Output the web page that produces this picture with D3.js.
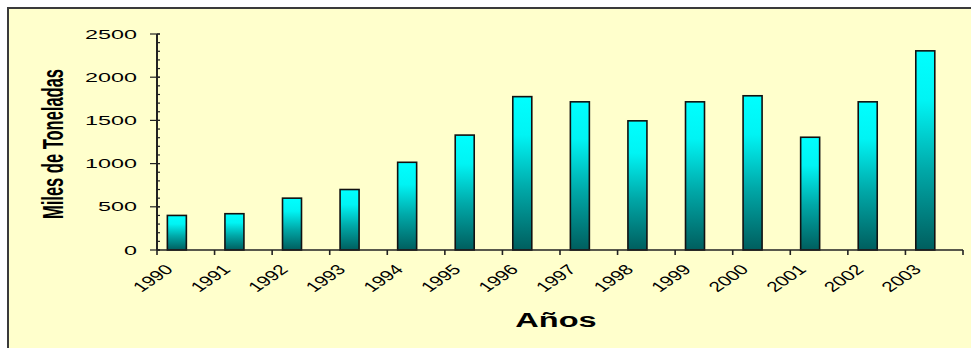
<!DOCTYPE html>
<html>
<head>
<meta charset="utf-8">
<script src="https://cdn.jsdelivr.net/npm/d3@7"></script>
<style>
  html, body { margin: 0; padding: 0; background: #ffffff; }
  svg { display: block; }
  text { font-family: "Liberation Sans", Arial, sans-serif; fill: #000; }
</style>
</head>
<body>
<svg id="chart" width="971" height="348"></svg>
<script>
// ---- data ----
const years = ["1990","1991","1992","1993","1994","1995","1996","1997","1998","1999","2000","2001","2002","2003"];
const values = [400, 420, 600, 700, 1015, 1330, 1775, 1715, 1495, 1715, 1785, 1305, 1715, 2305];
const yTicks = [0, 500, 1000, 1500, 2000, 2500];
const yMinorTicks = d3.range(0, 2501, 100);
const yTitle = "Miles de Toneladas";
const xTitle = "Años";

// ---- layout ----
const W = 971, H = 348;
const mLeft = 157, mRight = 963, mTop = 34, mBottom = 250;

const svg = d3.select("#chart");

// frame / background
svg.append("rect").attr("x", 0).attr("y", 0).attr("width", W).attr("height", H).attr("fill", "#ffffff");
svg.append("rect").attr("x", 8).attr("y", 8).attr("width", W + 20).attr("height", H + 20)
  .attr("fill", "#ffffcc").attr("stroke", "#3a3a3a").attr("stroke-width", 2);

const x = d3.scaleBand().domain(years).range([mLeft, mRight]).paddingInner(0).paddingOuter(0);
const y = d3.scaleLinear().domain([0, 2500]).range([mBottom, mTop]);

// gradient
const defs = svg.append("defs");
const grad = defs.append("linearGradient").attr("id", "barGrad")
  .attr("x1", 0).attr("y1", 0).attr("x2", 0).attr("y2", 1);
grad.append("stop").attr("offset", "0%").attr("stop-color", "#00ffff");
grad.append("stop").attr("offset", "25%").attr("stop-color", "#00f4f4");
grad.append("stop").attr("offset", "60%").attr("stop-color", "#00a8a8");
grad.append("stop").attr("offset", "100%").attr("stop-color", "#005e5e");

// bars
const bw = x.bandwidth();
svg.append("g").selectAll("rect").data(values).join("rect")
  .attr("x", (d, i) => x(years[i]) + bw * 0.18)
  .attr("width", bw * 0.33)
  .attr("y", d => y(d))
  .attr("height", d => y(0) - y(d))
  .attr("fill", "url(#barGrad)")
  .attr("stroke", "#111")
  .attr("stroke-width", 1.6);

// y axis
const yAxis = svg.append("g");
yAxis.append("line").attr("x1", mLeft).attr("x2", mLeft).attr("y1", y(2500)).attr("y2", y(0))
  .attr("stroke", "#222").attr("stroke-width", 2);
yAxis.selectAll("line.minor").data(yMinorTicks).join("line").attr("class", "minor")
  .attr("x1", mLeft).attr("x2", mLeft + 3).attr("y1", d => y(d)).attr("y2", d => y(d))
  .attr("stroke", "#222").attr("stroke-width", 1.2);
yAxis.selectAll("line.major").data(yTicks).join("line").attr("class", "major")
  .attr("x1", mLeft - 7).attr("x2", mLeft + 3).attr("y1", d => y(d)).attr("y2", d => y(d))
  .attr("stroke", "#222").attr("stroke-width", 1.2);
yAxis.selectAll("text").data(yTicks).join("text")
  .attr("text-anchor", "end")
  .attr("font-size", 12.5)
  .attr("transform", d => `translate(137,${y(d) + 4.5}) scale(1.87,1)`)
  .text(d => d);

// x axis
const xAxis = svg.append("g");
xAxis.append("line").attr("x1", mLeft).attr("x2", mRight).attr("y1", mBottom).attr("y2", mBottom)
  .attr("stroke", "#222").attr("stroke-width", 1.6);
const bounds = years.map(d => x(d)).concat([mRight]);
xAxis.selectAll("line.tick").data(bounds).join("line").attr("class", "tick")
  .attr("x1", d => d).attr("x2", d => d).attr("y1", mBottom).attr("y2", mBottom + 5)
  .attr("stroke", "#222").attr("stroke-width", 1.6);
xAxis.selectAll("text").data(years).join("text")
  .attr("text-anchor", "end")
  .attr("font-size", 14.2)
  .attr("transform", d => `translate(${x(d) + 17},${mBottom + 20.5}) scale(1.45,1) rotate(-45)`)
  .text(d => d);

// titles
svg.append("text")
  .attr("text-anchor", "middle")
  .attr("font-size", 16.5).attr("font-weight", "bold")
  .attr("transform", `translate(63,144) scale(1.8,1) rotate(-90)`)
  .text(yTitle);

svg.append("text")
  .attr("text-anchor", "middle")
  .attr("font-size", 21).attr("font-weight", "bold")
  .attr("transform", `translate(556,327) scale(1.55,1)`)
  .text(xTitle);
</script>
</body>
</html>
